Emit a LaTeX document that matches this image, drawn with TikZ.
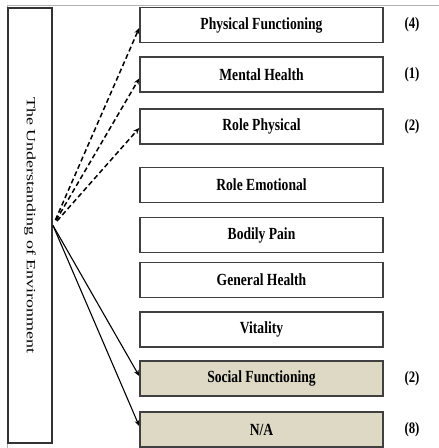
\documentclass[tikz,border=0pt]{standalone}
\usepackage{fontspec}
\usepackage{graphicx}
\setmainfont{Liberation Serif}
\usetikzlibrary{arrows.meta}
\definecolor{tanfill}{RGB}{221,217,196}
\newcommand{\nar}[1]{\scalebox{0.8}[1]{#1}}
\begin{document}
\begin{tikzpicture}[x=1pt,y=-1pt,
  bx/.style={draw=black!75,line width=1.6pt,minimum width=243pt,minimum height=35pt,inner sep=0pt,font=\fontsize{17}{19}\selectfont\bfseries},
  bxf/.style={bx,fill=tanfill},
  num/.style={inner sep=0pt,font=\fontsize{16}{18}\selectfont\bfseries},
  dsh/.style={dashed,dash pattern=on 5pt off 3pt,line width=1.5pt,shorten <=6pt,-{Stealth[length=6pt,width=5pt]}},
  sld/.style={line width=1.1pt,-{Stealth[length=6pt,width=5pt]}}]
\useasboundingbox (0,0) rectangle (439,448);
\draw[gray!60,line width=1pt] (7,448) -- (7,5) -- (439,5);
\node[draw=black!80,line width=2pt,minimum width=44pt,minimum height=435pt,inner sep=0pt] (env) at (30,225.5) {};
\node[rotate=-90,inner sep=0pt] (envt) at (env) {\scalebox{1}[0.7]{\fontsize{18}{20}\selectfont The Understanding of Environment}};
\node[bx] (pf) at (261.5,25) {\nar{Physical Functioning}}; \node[num] (pfn) at (412,25) {\nar{(4)}};
\node[bx] (mh) at (261.5,74.5) {\nar{Mental Health}}; \node[num] (mhn) at (412,74.5) {\nar{(1)}};
\node[bx] (rp) at (261.5,126.5) {\nar{Role Physical}}; \node[num] (rpn) at (412,126.5) {\nar{(2)}};
\node[bx] (re) at (261.5,185) {\nar{Role Emotional}};
\node[bx] (bp) at (261.5,235) {\nar{Bodily Pain}};
\node[bx] (gh) at (261.5,280) {\nar{General Health}};
\node[bx] (vt) at (261.5,329.5) {\nar{Vitality}};
\node[bxf] (sf) at (261.5,378.5) {\nar{Social Functioning}}; \node[num] (sfn) at (412,378.5) {\nar{(2)}};
\node[bxf] (na) at (261.5,429.5) {\nar{N/A}}; \node[num] (nan) at (412,429.5) {\nar{(8)}};
\draw[dsh] (env.east) -- ([yshift=-3pt]pf.west);
\draw[dsh] (env.east) -- ([yshift=-4pt]mh.west);
\draw[dsh] (env.east) -- ([yshift=-1.5pt]rp.west);
\draw[sld] (env.east) -- ([yshift=2.5pt]sf.west);
\draw[sld] (env.east) -- ([yshift=3.5pt]na.west);
\end{tikzpicture}
\end{document}
